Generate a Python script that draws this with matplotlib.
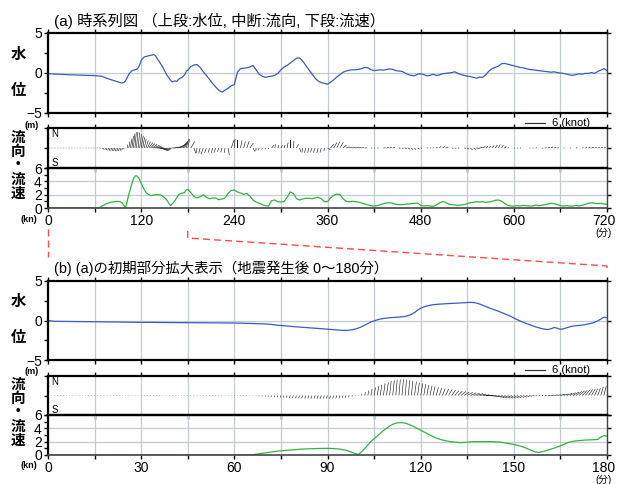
import numpy as np
import matplotlib
matplotlib.use('Agg')
import matplotlib.pyplot as plt
from matplotlib.lines import Line2D
from matplotlib.ticker import MultipleLocator
from matplotlib.transforms import ScaledTranslation

plt.rcParams['font.family'] = ['Liberation Sans', 'Noto Sans CJK JP']
plt.rcParams['axes.unicode_minus'] = True

W, H = 617, 484

# ---- early part, 0-180 min, every minute ----
t_early = np.arange(0, 181, 1)
level_early = [
    0.00, -0.05, -0.10, -0.10, -0.11, -0.11, -0.12, -0.12, -0.13, -0.13,
    -0.14, -0.14, -0.15, -0.15, -0.15, -0.16, -0.16, -0.17, -0.17, -0.18,
    -0.18, -0.19, -0.19, -0.20, -0.20, -0.21, -0.21, -0.22, -0.22, -0.23,
    -0.23, -0.23, -0.24, -0.24, -0.24, -0.25, -0.25, -0.25, -0.26, -0.26,
    -0.26, -0.27, -0.27, -0.27, -0.28, -0.28, -0.28, -0.28, -0.29, -0.29,
    -0.29, -0.29, -0.30, -0.30, -0.30, -0.30, -0.31, -0.31, -0.31, -0.32,
    -0.32, -0.33, -0.33, -0.34, -0.35, -0.36, -0.37, -0.38, -0.40, -0.41,
    -0.43, -0.46, -0.50, -0.55, -0.60, -0.63, -0.67, -0.70, -0.74, -0.77,
    -0.80, -0.83, -0.86, -0.89, -0.92, -0.95, -0.98, -1.01, -1.04, -1.07,
    -1.10, -1.13, -1.17, -1.20, -1.23, -1.25, -1.25, -1.22, -1.17, -1.08,
    -0.95, -0.78, -0.58, -0.38, -0.18, -0.04, 0.08, 0.18, 0.26, 0.31,
    0.35, 0.38, 0.40, 0.43, 0.46, 0.52, 0.62, 0.78, 1.00, 1.30,
    1.55, 1.72, 1.84, 1.93, 2.00, 2.04, 2.07, 2.10, 2.12, 2.14,
    2.16, 2.18, 2.20, 2.22, 2.25, 2.28, 2.30, 2.28, 2.20, 2.08,
    1.92, 1.76, 1.60, 1.46, 1.33, 1.18, 1.02, 0.86, 0.70, 0.52,
    0.32, 0.12, -0.06, -0.22, -0.38, -0.52, -0.66, -0.80, -0.92, -1.02,
    -1.10, -1.14, -1.05, -0.88, -0.98, -1.12, -1.05, -0.92, -0.80, -0.72,
    -0.66, -0.62, -0.58, -0.52, -0.44, -0.35, -0.22, -0.05, 0.18, 0.42,
    0.35]
speed_early = [0.0] * 66 + [
    0.05, 0.12, 0.20, 0.27,
    0.33, 0.40, 0.46, 0.52, 0.58, 0.63, 0.67, 0.71, 0.75, 0.79,
    0.83, 0.86, 0.89, 0.91, 0.93, 0.95, 0.97, 0.98, 0.99, 1.00,
    1.00, 0.99, 0.97, 0.93, 0.88, 0.80, 0.70, 0.55, 0.38, 0.20,
    0.08, 0.50, 1.00, 1.50, 2.00, 2.45, 2.85, 3.25, 3.65, 4.00,
    4.35, 4.60, 4.78, 4.85, 4.85, 4.78, 4.62, 4.42, 4.20, 3.95,
    3.72, 3.48, 3.22, 2.98, 2.75, 2.55, 2.38, 2.25, 2.15, 2.05,
    1.98, 1.92, 1.88, 1.86, 1.88, 1.92, 1.96, 2.00, 2.00, 2.00,
    2.00, 2.00, 2.00, 2.00, 1.98, 1.95, 1.90, 1.82, 1.74, 1.66,
    1.58, 1.48, 1.35, 1.20, 1.02, 0.82, 0.62, 0.45, 0.38, 0.48,
    0.60, 0.74, 0.88, 1.03, 1.20, 1.38, 1.58, 1.78, 1.95, 2.05,
    2.12, 2.16, 2.20, 2.24, 2.26, 2.28, 2.30, 2.34, 2.70, 2.90,
    2.80]
# flow direction, degrees clockwise from north
dir_early = [180] * 66 + [200] * 34 + [
    20, 10, 10, 10, 10, 10, 10, 8, 8, 8,
    6, 6, 5, 5, 5, 5, 6, 6, 8, 8,
    10, 10, 10, 12, 12, 15, 18, 22, 26, 30,
    35, 40, 45, 50, 55, 60, 65, 70, 74, 78,
    85, 90, 95, 100, 105, 110, 113, 115, 117, 118,
    118, 118, 117, 115, 112, 108, 104, 100, 95, 90,
    88, 85, 82, 80, 78, 75, 72, 68, 64, 60,
    55, 50, 45, 40, 35, 30, 25, 20, 16, 14,
    12]

# ---- later part, 184-720 min, every 4 minutes ----
t_late = np.arange(184, 721, 4)
level_late = [
    0.80, 1.00, 1.05, 0.70, 0.15, -0.30, -0.80, -1.30, -1.75, -2.15,
    -2.40, -2.15, -1.90, -1.60, -1.45, 0.10, 0.55, 0.60, 0.65, 0.75,
    0.95, 0.40, -0.15, -0.40, -0.55, -0.45, -0.40, -0.30, -0.05, 0.40,
    0.75, 0.95, 1.25, 1.55, 1.85, 1.90, 1.50, 0.95, 0.40, -0.10,
    -0.65, -1.00, -1.20, -1.30, -1.40, -1.15, -0.85, -0.50, -0.20, 0.10,
    0.25, 0.35, 0.40, 0.40, 0.45, 0.55, 0.70, 0.65, 0.40, 0.30,
    0.35, 0.40, 0.35, 0.45, 0.50, 0.45, 0.30, 0.25, 0.20, 0.00,
    -0.20, -0.30, -0.35, -0.15, -0.10, -0.20, -0.35, -0.30, -0.15, -0.30,
    -0.25, -0.10, -0.05, 0.00, 0.05, 0.15, -0.05, -0.20, -0.30, -0.40,
    -0.45, -0.55, -0.65, -0.50, -0.55, -0.20, 0.25, 0.55, 0.70, 0.85,
    1.15, 1.20, 1.10, 1.00, 0.90, 0.80, 0.70, 0.65, 0.55, 0.45,
    0.40, 0.35, 0.30, 0.25, 0.20, 0.15, 0.10, 0.15, 0.05, 0.00,
    -0.05, -0.15, -0.25, -0.30, -0.20, -0.10, -0.15, -0.05, -0.05, 0.05,
    -0.05, 0.20, 0.35, 0.55, 0.30]
speed_late = [
    2.30, 1.75, 1.50, 1.70, 2.00, 1.60, 1.40, 1.50, 1.50, 1.25,
    1.35, 1.50, 2.20, 2.65, 2.70, 2.40, 2.25, 2.05, 2.20, 1.80,
    1.20, 0.90, 0.70, 0.50, 0.35, 0.30, 1.10, 1.20, 0.95, 0.90,
    0.95, 1.60, 2.40, 2.20, 1.40, 1.20, 1.35, 1.45, 1.45, 1.40,
    1.50, 1.60, 1.40, 0.95, 0.95, 1.50, 1.90, 2.10, 2.00, 1.40,
    1.00, 0.95, 1.00, 0.95, 0.90, 0.75, 0.60, 0.45, 0.35, 0.30,
    0.35, 0.50, 0.65, 0.75, 0.80, 0.70, 0.55, 0.50, 0.50, 0.55,
    0.60, 0.65, 0.70, 0.75, 0.40, 0.30, 0.35, 0.30, 0.25, 0.45,
    0.75, 0.95, 0.85, 0.60, 0.50, 0.45, 0.40, 0.45, 0.50, 0.65,
    0.80, 0.85, 0.95, 0.90, 0.95, 0.85, 0.90, 1.00, 1.15, 1.20,
    1.05, 0.70, 0.40, 0.30, 0.30, 0.35, 0.30, 0.40, 0.35, 0.30,
    0.30, 0.45, 0.35, 0.40, 0.50, 0.60, 0.70, 0.65, 0.50, 0.35,
    0.30, 0.35, 0.30, 0.30, 0.40, 0.30, 0.40, 0.55, 0.70, 0.80,
    0.70, 0.65, 0.70, 0.60, 0.55]
dir_late = [
    30, 160, 190, 195, 200, 200, 195, 195, 200, 200,
    195, 190, 170, 20, 5, 0, 10, 15, 20, 35,
    150, 185, 195, 200, 200, 190, 40, 15, 20, 30,
    20, 10, 0, 5, 30, 160, 190, 195, 195, 200,
    200, 195, 195, 190, 120, 40, 30, 25, 30, 50,
    70, 75, 80, 80, 75, 80, 85, 90, 95, 100,
    95, 90, 85, 80, 75, 80, 90, 100, 110, 120,
    130, 140, 140, 120, 100, 90, 80, 80, 75, 60,
    50, 60, 80, 90, 100, 100, 95, 90, 100, 120,
    130, 120, 100, 80, 60, 50, 45, 40, 35, 30,
    35, 50, 80, 90, 95, 100, 95, 90, 90, 95,
    100, 80, 90, 100, 80, 70, 60, 70, 80, 90,
    95, 90, 85, 90, 80, 90, 80, 70, 70, 75,
    80, 75, 70, 75, 80]

# the 12-hour panel uses every second minute of the early record
t_all = np.concatenate([t_early[::2], t_late])
level_all = np.concatenate([level_early[::2], level_late])
speed_all = np.concatenate([speed_early[::2], speed_late])
dir_all = np.concatenate([dir_early[::2], dir_late])

BLUE = '#3b5cc0'
GREEN = '#2fb443'
GRID = '#c3cad0'
RED = '#ff4a4a'


def fbox(x0, y0, x1, y1):
    return [x0 / W, 1 - y1 / H, (x1 - x0) / W, (y1 - y0) / H]


def fpt(x, y):
    return x / W, 1 - y / H


fig = plt.figure(figsize=(W / 100, H / 100), dpi=100)


def style_spines(ax, top=1.6, bottom=1.6):
    ax.spines['top'].set_linewidth(top)
    ax.spines['bottom'].set_linewidth(bottom)
    ax.spines['left'].set_linewidth(1.6)
    ax.spines['right'].set_linewidth(1.0)
    ax.spines['right'].set_color('#444444')
    for s in ax.spines.values():
        s.set_zorder(5)


def draw_group(y_off, t, level, speed, direction, xmax, major, minor, xlabels, stick_w):
    d = 1 if y_off else 0
    ax1 = fig.add_axes(fbox(48, 33 + y_off, 607, 113 + y_off - d))
    ax2 = fig.add_axes(fbox(48, 128 + y_off, 607, 168 + y_off - d))
    ax3 = fig.add_axes(fbox(48, 168 + y_off - d, 607, 208 + y_off - d))

    for ax in (ax1, ax2, ax3):
        ax.set_xlim(0, xmax)
        ax.xaxis.set_major_locator(MultipleLocator(major))
        ax.xaxis.set_minor_locator(MultipleLocator(minor))
        ax.grid(True, axis='x', which='both', color=GRID, lw=0.9, zorder=0)
        ax.tick_params(axis='both', which='both', direction='out', length=3,
                       width=1, pad=1.5, labelsize=10, colors='black')
        ax.tick_params(axis='x', labelbottom=False, bottom=False, top=False)
        ax.tick_params(axis='y', right=True)
        ax.set_facecolor('none')

    # water level
    ax1.plot(t, level, color=BLUE, lw=0.9, zorder=3)
    ax1.set_ylim(-5, 5)
    ax1.set_yticks([-5, 0, 5])
    ax1.set_yticklabels(['\u22125', '0', '5'])
    ax1.yaxis.set_minor_locator(MultipleLocator(2.5))
    ax1.axhline(0, color=GRID, lw=0.9, zorder=0)
    ax1.tick_params(axis='x', which='both', bottom=True, top=True)
    style_spines(ax1)

    # stick plot of flow direction
    th = np.deg2rad(direction)
    u = np.asarray(speed) * np.sin(th)
    v = np.asarray(speed) * np.cos(th)
    ax2.set_ylim(-1, 1)
    ax2.quiver(t, np.zeros(len(t)), u, v, angles='uv', scale_units='inches',
               scale=30, units='dots', width=stick_w, headwidth=1, headlength=0,
               headaxislength=0, minlength=1, pivot='tail', color='#1a1a1a',
               zorder=3)
    ax2.set_yticks([-1, 0, 1])
    ax2.set_yticklabels([])
    ax2.tick_params(axis='x', which='both', top=True)
    ax2.text(0.006, 0.98, 'N', transform=ax2.transAxes, fontsize=7,
             ha='left', va='top', zorder=6)
    ax2.text(0.006, 0.0, 'S', transform=ax2.transAxes, fontsize=7,
             ha='left', va='bottom', zorder=6)
    style_spines(ax2)

    # scale stick: 6 knots
    ky = 123 + y_off - d
    fig.add_artist(Line2D([525 / W, 545 / W], [1 - ky / H, 1 - ky / H],
                          transform=fig.transFigure, color='#333333', lw=0.9))
    fig.text(*fpt(552, ky), '6 (knot)', fontsize=8, ha='left', va='center')

    # flow speed
    ax3.plot(t, speed, color=GREEN, lw=0.9, zorder=3)
    ax3.set_ylim(0, 6)
    ax3.set_yticks([0, 2, 4, 6])
    ax3.yaxis.set_minor_locator(MultipleLocator(1))
    for g in (2, 4):
        ax3.axhline(g, color=GRID, lw=0.9, zorder=0)
    ax3.set_xticks(np.arange(0, xmax + 1, major))
    ax3.set_xticklabels(xlabels)
    ax3.tick_params(axis='x', which='both', bottom=True, labelbottom=True)
    last = ax3.get_xticklabels()[-1]
    last.set_transform(last.get_transform() + ScaledTranslation(-0.03, 0, fig.dpi_scale_trans))
    style_spines(ax3, top=1.6, bottom=1.2)
    ax3.spines['bottom'].set_color('#444444')
    return ax1, ax2, ax3


top_axes = draw_group(0, t_all, level_all, speed_all, dir_all, 720, 120, 60,
                      [str(v) for v in range(0, 721, 120)], 0.6)
bot_axes = draw_group(248, t_early, level_early, speed_early, dir_early, 180, 30, 15,
                      [str(v) for v in range(0, 181, 30)], 0.6)

# titles
fig.text(*fpt(54, 21), '(a) 時系列図 （上段:水位, 中断:流向, 下段:流速）',
         fontsize=11, ha='left', va='center')
fig.text(*fpt(54, 268), '(b) (a)の初期部分拡大表示（地震発生後 0〜180分）',
         fontsize=10.4, ha='left', va='center')

# vertical axis labels
for dy in (0, 247):
    fig.text(*fpt(18, 55 + dy), '水', fontsize=11, fontweight='bold', ha='center', va='center')
    fig.text(*fpt(18, 91 + dy), '位', fontsize=11, fontweight='bold', ha='center', va='center')
    for ch, yy in zip('流向・流速', (138, 152, 165, 180, 194)):
        fig.text(*fpt(18, yy + dy), ch, fontsize=10.5, fontweight='bold',
                 ha='center', va='center')
    fig.text(*fpt(32, 125 + dy), '(m)', fontsize=6.5, fontweight='bold', ha='center', va='center')
    fig.text(*fpt(29, 219 + dy), '(kn)', fontsize=6.5, fontweight='bold', ha='center', va='center')
    fig.text(*fpt(604, 233 + dy), '(分)', fontsize=7, ha='center', va='center')

# red dashed lines linking 0-180 min of (a) to (b)
fig.canvas.draw()
ax_a = top_axes[2]
ax_b = bot_axes[0]
xa0 = ax_a.transData.transform((0, 0))[0] / W
xa1 = ax_a.transData.transform((180, 0))[0] / W
xb0 = ax_b.transData.transform((0, 0))[0] / W
xb1 = ax_b.transData.transform((180, 0))[0] / W
dash = (0, (5, 3))
fig.add_artist(Line2D([xa0, xb0], [1 - 229 / H, 1 - 257 / H], transform=fig.transFigure,
                      color=RED, lw=1.0, ls=dash))
fig.add_artist(Line2D([xa1, xa1, xb1, xb1],
                      [1 - 231 / H, 1 - 238 / H, 1 - 266 / H, 1 - 271 / H],
                      transform=fig.transFigure, color=RED, lw=1.0, ls=dash))

fig.savefig('out.png', dpi=100)
